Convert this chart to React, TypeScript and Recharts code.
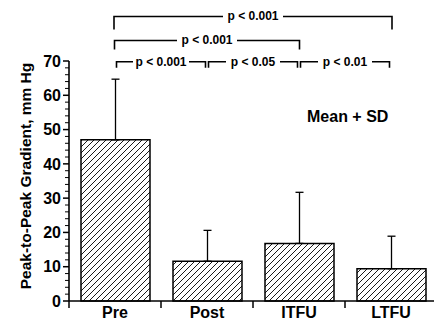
import React from 'react';
import { BarChart, Bar, XAxis, YAxis, ErrorBar, ReferenceLine, Customized } from 'recharts';

const categories = ['Pre', 'Post', 'ITFU', 'LTFU'];
const means = [47, 11.6, 16.8, 9.4];
const sds = [17.7, 9.0, 14.9, 9.5];
const yTicks = [0, 10, 20, 30, 40, 50, 60, 70];
const minorTicks = [2, 4, 6, 8, 12, 14, 16, 18, 22, 24, 26, 28, 32, 34, 36, 38, 42, 44, 46, 48, 52, 54, 56, 58, 62, 64, 66, 68];

const brackets = [
  { from: 'Pre', to: 'LTFU', y: 83, label: 'p < 0.001', drop: 13, inset: -1, gap: 30 },
  { from: 'Pre', to: 'ITFU', y: 76, label: 'p < 0.001', drop: 9, inset: -0.5, gap: 30 },
  { from: 'Pre', to: 'Post', y: 69.8, label: 'p < 0.001', drop: 6, inset: 1.5, gap: 28 },
  { from: 'Post', to: 'ITFU', y: 69.8, label: 'p < 0.05', drop: 6, inset: 1.5, gap: 27 },
  { from: 'ITFU', to: 'LTFU', y: 69.8, label: 'p < 0.01', drop: 6, inset: 1.5, gap: 27 },
];

const data = categories.map((c, i) => ({ name: c, mean: means[i], err: [0, sds[i]] }));

const FONT = '"Liberation Sans", Arial, Helvetica, sans-serif';

const makeBracket = (label: string, drop: number, inset: number, gap: number) => (props: any) => {
  const { x1, x2, y1 } = props;
  const a = Math.min(x1, x2) + inset;
  const b = Math.max(x1, x2) - inset;
  const cx = (a + b) / 2;
  return (
    <g>
      <path
        d={`M${a},${y1 + drop} L${a},${y1} L${cx - gap},${y1} M${cx + gap},${y1} L${b},${y1} L${b},${y1 + drop}`}
        stroke="#000"
        strokeWidth={1.6}
        fill="none"
      />
      <text x={cx} y={y1 + 4} textAnchor="middle" fontSize={12} fontWeight="bold" fontFamily={FONT} fill="#000">
        {label}
      </text>
    </g>
  );
};

const MinorTickShape = (props: any) => {
  const { x1, x2, y1 } = props;
  const left = Math.min(x1, x2);
  return <line x1={left - 4} y1={y1} x2={left} y2={y1} stroke="#000" strokeWidth={1} />;
};

const Labels = () => (
  <g>
    <text
      x={31}
      y={176}
      transform="rotate(-90, 31, 176)"
      textAnchor="middle"
      fontSize={15.5}
      fontWeight="bold"
      fontFamily={FONT}
      fill="#000"
    >
      Peak-to-Peak Gradient, mm Hg
    </text>
    <text x={307} y={122} fontSize={16} fontWeight="bold" fontFamily={FONT} fill="#000">
      Mean + SD
    </text>
  </g>
);

const CategoryTick = (props: any) => {
  const { x, y, payload } = props;
  const half = payload && typeof payload.offset === 'number' && payload.offset > 0 ? payload.offset : 46;
  const axisY = y - 6;
  const left = x - half;
  return (
    <g>
      <line x1={left} y1={axisY} x2={left} y2={axisY + 7} stroke="#000" strokeWidth={1.5} />
      <text
        x={x}
        y={y}
        dy="0.71em"
        textAnchor="middle"
        fontSize={16}
        fontWeight="bold"
        fontFamily={FONT}
        fill="#000"
      >
        {payload.value}
      </text>
    </g>
  );
};

export default function App() {
  return (
    <div style={{ position: 'absolute', left: 0, top: 0, width: 434, height: 330, overflow: 'hidden', background: '#fff' }}>
      <BarChart width={437} height={330} data={data} margin={{ top: 61, right: 0, bottom: 0, left: 0 }}>
        <defs>
          <pattern id="hatch" patternUnits="userSpaceOnUse" width="6" height="6">
            <path d="M0,6 L6,0 M-1,1 L1,-1 M5,7 L7,5" stroke="#000" strokeWidth={0.9} />
          </pattern>
        </defs>
        <XAxis
          xAxisId={1}
          dataKey="name"
          height={29}
          tickLine={false}
          tickSize={4}
          tickMargin={2}
          axisLine={{ stroke: '#000', strokeWidth: 1.6 }}
          tick={CategoryTick}
        />
        <YAxis
          yAxisId={1}
          domain={[0, 70]}
          ticks={yTicks}
          width={69}
          tickSize={6}
          tickMargin={2}
          axisLine={{ stroke: '#000', strokeWidth: 1.6 }}
          tickLine={{ stroke: '#000', strokeWidth: 1.5 }}
          tick={{ fill: '#000', fontSize: 16, fontWeight: 'bold', fontFamily: FONT }}
        />
        <Bar
          xAxisId={1}
          yAxisId={1}
          dataKey="mean"
          barSize={69}
          fill="url(#hatch)"
          stroke="#000"
          strokeWidth={1.5}
          isAnimationActive={false}
        >
          <ErrorBar dataKey="err" direction="y" width={4} stroke="#000" strokeWidth={1.3} isAnimationActive={false} />
        </Bar>
        {minorTicks.map((v) => (
          <ReferenceLine
            key={`m${v}`}
            xAxisId={1}
            yAxisId={1}
            y={v}
            ifOverflow="visible"
            shape={MinorTickShape}
          />
        ))}
        {brackets.map((br, i) => (
          <ReferenceLine
            key={i}
            xAxisId={1}
            yAxisId={1}
            segment={[{ x: br.from, y: br.y }, { x: br.to, y: br.y }]}
            ifOverflow="visible"
            shape={makeBracket(br.label, br.drop, br.inset, br.gap)}
          />
        ))}
        <Customized component={Labels} />
      </BarChart>
    </div>
  );
}
